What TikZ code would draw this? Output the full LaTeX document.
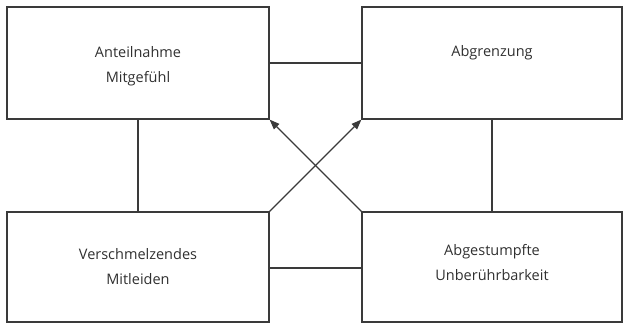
\documentclass[tikz,border=0pt]{standalone}
\usepackage{fontspec}
\setmainfont{Open Sans}
\usetikzlibrary{arrows.meta}
\definecolor{ln}{HTML}{3A3A3A}
\definecolor{tx}{HTML}{303030}
\begin{document}
\begin{tikzpicture}[x=1pt,y=1pt,
  box/.style={draw=ln,line width=1.2pt,rectangle,minimum height=112pt,inner sep=0pt},
  lbl/.style={text=tx,font=\fontsize{14.5}{25}\selectfont,align=center,inner sep=0pt},
  conn/.style={draw=ln,line width=1.2pt},
  arr/.style={conn,-{Triangle[length=10pt,width=7.5pt]}}]
\useasboundingbox (0,0) rectangle (624,324);
\node[box,minimum width=262pt] (tl) at (138,261) {};
\node[box,minimum width=260pt] (tr) at (492,261) {};
\node[box,minimum width=262pt,minimum height=110pt] (bl) at (138,57) {};
\node[box,minimum width=260pt,minimum height=110pt] (br) at (492,57) {};
\node[lbl] (tlt) at (138,258) {Anteilnahme\\Mitgefühl};
\node[lbl] (trt) at (492,271) {Abgrenzung};
\node[lbl] (blt) at (138,57) {Verschmelzendes\\Mitleiden};
\node[lbl] (brt) at (492,61) {Abgestumpfte\\Unberührbarkeit};
\draw[conn] (tl.east |- 0,261) -- (tr.west |- 0,261);
\draw[conn] (bl.east |- 0,56) -- (br.west |- 0,56);
\draw[conn] (tl.south) -- (bl.north);
\draw[conn] (tr.south) -- (br.north);
\draw[arr] (bl.north east) -- (tr.south west);
\draw[arr] (br.north west) -- (tl.south east);
\end{tikzpicture}
\end{document}
